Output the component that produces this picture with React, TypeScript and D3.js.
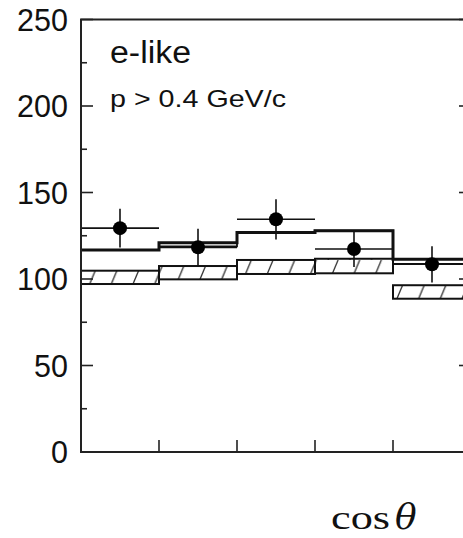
import React from "react";
import * as d3 from "d3";

const binEdges = [-1.0, -0.6, -0.2, 0.2, 0.6, 1.0];
const mcThick = [116.8, 121.0, 126.9, 127.9, 111.4];
const mcThin = [116.8, 118.9, 126.9, 127.9, 108.8];
const hatchLow = [97.1, 99.8, 102.9, 103.3, 88.6];
const hatchHigh = [104.8, 107.5, 111.0, 111.7, 96.4];
const dataVals = [129.4, 118.3, 134.5, 117.3, 108.5];
const dataErr = [11.2, 10.8, 11.6, 10.3, 10.5];
const yTicksMajor = [0, 50, 100, 150, 200, 250];
const yTicksMinor = [25, 75, 125, 175, 225];

const W = 463;
const H = 538;

export default function App() {
  const x = d3.scaleLinear().domain([-1, 1]).range([81, 471]);
  const y = d3.scaleLinear().domain([0, 250]).range([452, 19.5]);

  const stepLine = (vals: number[]) => {
    const pts: [number, number][] = vals.map((v, i) => [binEdges[i], v]);
    pts.push([binEdges[binEdges.length - 1], vals[vals.length - 1]]);
    return d3
      .line<[number, number]>()
      .x((d) => x(d[0]))
      .y((d) => y(d[1]))
      .curve(d3.curveStepAfter)(pts) as string;
  };

  const ink = "#111";
  const axisCol = "#222";
  const xl = x(-1);
  const xr = x(1);

  return (
    <svg
      width={W}
      height={H}
      style={{ position: "absolute", left: 0, top: 0, background: "#fff" }}
    >
      <defs>
        <pattern
          id="hatch"
          patternUnits="userSpaceOnUse"
          width={21.67}
          height={24}
          x={3}
          y={y(0)}
        >
          <line x1={0} y1={24} x2={10} y2={0} stroke="#333" strokeWidth={1.3} />
          <line x1={21.67} y1={24} x2={31.67} y2={0} stroke="#333" strokeWidth={1.3} />
          <line x1={-21.67} y1={24} x2={-11.67} y2={0} stroke="#333" strokeWidth={1.3} />
        </pattern>
      </defs>
      <rect x={0} y={0} width={W} height={H} fill="#fff" />

      {/* hatched boxes */}
      {hatchLow.map((lo, i) => (
        <rect
          key={"hb" + i}
          x={x(binEdges[i])}
          y={y(hatchHigh[i])}
          width={x(binEdges[i + 1]) - x(binEdges[i])}
          height={y(lo) - y(hatchHigh[i])}
          fill="url(#hatch)"
          stroke={ink}
          strokeWidth={2}
        />
      ))}

      {/* MC histograms */}
      <path d={stepLine(mcThin)} fill="none" stroke={ink} strokeWidth={1.8} />
      <path d={stepLine(mcThick)} fill="none" stroke={ink} strokeWidth={3} />

      {/* data points */}
      {dataVals.map((v, i) => {
        const cx = x((binEdges[i] + binEdges[i + 1]) / 2);
        return (
          <g key={"pt" + i}>
            <line
              x1={x(binEdges[i])}
              x2={x(binEdges[i + 1])}
              y1={y(v)}
              y2={y(v)}
              stroke={ink}
              strokeWidth={1.6}
            />
            <line
              x1={cx}
              x2={cx}
              y1={y(v + dataErr[i])}
              y2={y(v - dataErr[i])}
              stroke={ink}
              strokeWidth={1.6}
            />
            <circle cx={cx} cy={y(v)} r={7} fill="#000" />
          </g>
        );
      })}

      {/* frame */}
      <line x1={xl} x2={xl} y1={y(250)} y2={y(0)} stroke={axisCol} strokeWidth={2} />
      <line x1={xr} x2={xr} y1={y(250)} y2={y(0)} stroke={axisCol} strokeWidth={2} />
      <line x1={xl - 1} x2={xr} y1={y(250)} y2={y(250)} stroke={axisCol} strokeWidth={2} />
      <line x1={xl - 1} x2={xr} y1={y(0)} y2={y(0)} stroke={axisCol} strokeWidth={2} />

      {/* y ticks */}
      {yTicksMajor.map((t) => (
        <g key={"ym" + t}>
          <line x1={xl} x2={xl + 12} y1={y(t)} y2={y(t)} stroke={axisCol} strokeWidth={1.6} />
          <line x1={xr} x2={xr - 12} y1={y(t)} y2={y(t)} stroke={axisCol} strokeWidth={1.6} />
          <text
            x={68}
            y={y(t) + 11}
            textAnchor="end"
            fontFamily="'Liberation Sans', Arial, Helvetica, sans-serif"
            fontSize={30.5}
            fill="#111"
          >
            {t}
          </text>
        </g>
      ))}
      {yTicksMinor.map((t) => (
        <g key={"yn" + t}>
          <line x1={xl} x2={xl + 6} y1={y(t)} y2={y(t)} stroke={axisCol} strokeWidth={1.6} />
          <line x1={xr} x2={xr - 6} y1={y(t)} y2={y(t)} stroke={axisCol} strokeWidth={1.6} />
        </g>
      ))}

      {/* x ticks */}
      {binEdges.slice(1, -1).map((e) => (
        <line
          key={"xt" + e}
          x1={x(e)}
          x2={x(e)}
          y1={y(0)}
          y2={y(0) - 12}
          stroke={axisCol}
          strokeWidth={1.6}
        />
      ))}

      {/* labels */}
      <text
        x={110}
        y={63.3}
        fontFamily="'Liberation Sans', Arial, Helvetica, sans-serif"
        fontSize={31}
        textLength={81}
        lengthAdjust="spacingAndGlyphs"
        fill="#111"
      >
        e-like
      </text>
      <text
        x={110}
        y={106.7}
        fontFamily="'Liberation Sans', Arial, Helvetica, sans-serif"
        fontSize={24}
        textLength={176}
        lengthAdjust="spacingAndGlyphs"
        fill="#111"
      >
        p &gt; 0.4 GeV/c
      </text>
      <text
        x={331}
        y={529}
        fontFamily="'Liberation Serif', 'DejaVu Serif', serif"
        fontSize={34}
        fill="#111"
      >
        <tspan textLength={59} lengthAdjust="spacingAndGlyphs">cos</tspan>
      </text>
      <text
        x={395}
        y={529}
        fontFamily="'DejaVu Serif', serif"
        fontStyle="italic"
        fontSize={36}
        fill="#111"
      >
        θ
      </text>
    </svg>
  );
}
